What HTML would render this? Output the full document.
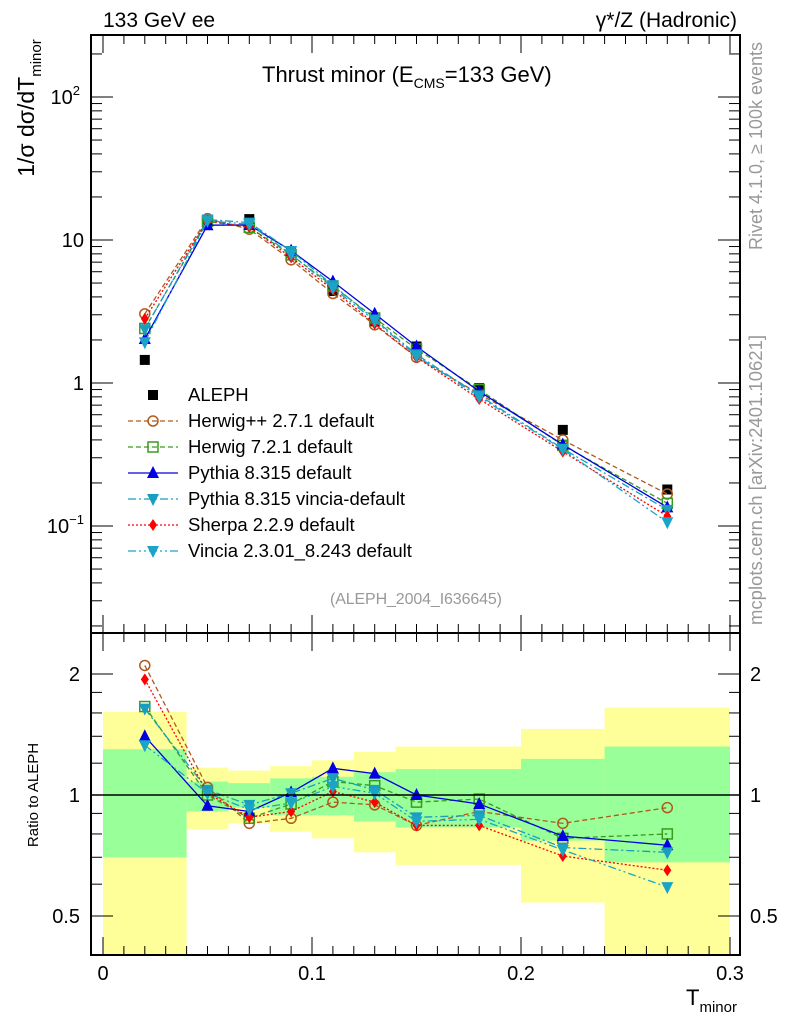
<!DOCTYPE html>
<html><head><meta charset="utf-8"><style>
body{margin:0;background:#fff;}
svg text{font-family:"Liberation Sans",sans-serif;}
</style></head><body>
<svg id="c" width="786" height="1024" viewBox="0 0 786 1024" xmlns="http://www.w3.org/2000/svg">
<g id="bands"></g>
<g id="grid"></g>
<g id="series"></g>
<g id="axes"></g>
<text x="103" y="27" font-size="21">133 GeV ee</text>
<text x="737" y="27" font-size="21" text-anchor="end">γ*/Z (Hadronic)</text>
<text x="262" y="82" font-size="22">Thrust minor (E<tspan font-size="14" dy="6">CMS</tspan><tspan dy="-6">=133 GeV)</tspan></text>
<text x="330" y="604" font-size="16" fill="#999" textLength="172">(ALEPH_2004_I636645)</text>
<text transform="translate(762,146) rotate(-90)" font-size="18" fill="#999" text-anchor="middle">Rivet 4.1.0, ≥ 100k events</text>
<text transform="translate(762,480) rotate(-90)" font-size="18.5" fill="#999" text-anchor="middle">mcplots.cern.ch [arXiv:2401.10621]</text>
<text transform="translate(34,108) rotate(-90)" font-size="23" text-anchor="middle">1/σ  dσ/dT<tspan font-size="15" dy="7">minor</tspan></text>
<text transform="translate(38,795) rotate(-90)" font-size="15" text-anchor="middle">Ratio to ALEPH</text>
<text x="686" y="1005" font-size="22">T<tspan font-size="15" dy="7">minor</tspan></text>
<g id="legend"></g>
</svg>
<script>
const xs = [0.02,0.05,0.07,0.09,0.11,0.13,0.15,0.18,0.22,0.27];
const binLo = [0,0.04,0.06,0.08,0.10,0.12,0.14,0.16,0.20,0.24];
const binHi = [0.04,0.06,0.08,0.10,0.12,0.14,0.16,0.20,0.24,0.30];
const aleph = [1.45,13.5,14.0,8.3,4.4,2.7,1.8,0.92,0.47,0.18];
const yellowHi = [1.61,1.17,1.15,1.18,1.22,1.28,1.32,1.32,1.46,1.65];
const yellowLo = [0.3,0.82,0.85,0.81,0.78,0.72,0.67,0.67,0.54,0.3];
const greenHi = [1.30,1.08,1.07,1.10,1.11,1.14,1.16,1.16,1.23,1.32];
const greenLo = [0.70,0.91,0.93,0.89,0.89,0.86,0.83,0.83,0.77,0.68];
const rHerwigpp = [2.10,1.045,0.85,0.875,0.96,0.945,0.84,0.91,0.85,0.93];
const rHerwig7 = [1.66,1.0,0.875,0.95,1.08,1.055,0.96,0.977,0.78,0.80];
const rPythia = [1.40,0.94,0.91,1.015,1.165,1.13,1.0,0.95,0.79,0.75];
const rPyVincia = [1.64,1.03,0.945,1.01,1.10,1.03,0.88,0.89,0.74,0.72];
const rSherpa = [1.94,1.01,0.88,0.91,1.02,0.96,0.84,0.84,0.705,0.65];
const rVincia = [1.33,1.01,0.92,0.955,1.05,1.01,0.86,0.87,0.73,0.59];
const xTicks = [0,0.1,0.2,0.3];
const xTickLabels = ["0","0.1","0.2","0.3"];

const NS="http://www.w3.org/2000/svg";
const L=91,R=740,T=35,MB=633,RB=955;
const X=v=>103+v*2090;
const Y=v=>383-143*Math.log10(v);
const RY=v=>795-121*Math.log2(v);
function mk(tag,attrs,parent){const e=document.createElementNS(NS,tag);for(const k in attrs)e.setAttribute(k,attrs[k]);parent.appendChild(e);return e;}
const bands=document.getElementById('bands');
for(let i=0;i<xs.length;i++){
  const yb=Math.min(RY(yellowLo[i]),RB);
  const r1=mk('rect',{x:X(binLo[i]),y:RY(yellowHi[i]),width:X(binHi[i])-X(binLo[i]),height:yb-RY(yellowHi[i]),fill:'#ffff99'},bands);
  
  
  const r2=mk('rect',{x:X(binLo[i]),y:RY(greenHi[i]),width:X(binHi[i])-X(binLo[i]),height:RY(greenLo[i])-RY(greenHi[i]),fill:'#99ff99'},bands);
  
  
}
const ax=document.getElementById('axes');
mk('line',{x1:L,x2:R,y1:795,y2:795,stroke:'#000','stroke-width':1.5},ax);
mk('rect',{x:L,y:T,width:R-L,height:MB-T,fill:'none',stroke:'#000','stroke-width':2},ax);
mk('rect',{x:L,y:MB,width:R-L,height:RB-MB,fill:'none',stroke:'#000','stroke-width':2},ax);
for(let v=0;v<=0.3001;v+=0.01){
  const major=Math.abs(v*10-Math.round(v*10))<1e-6;
  const len=major?18:9, x=X(v);
  [[T,1],[MB,-1],[MB,1],[RB,-1]].forEach(([y0,d])=>mk('line',{x1:x,x2:x,y1:y0,y2:y0+d*len,stroke:'#000','stroke-width':1},ax));
}
xTicks.forEach((v,i)=>{const t=mk('text',{x:X(v),y:980,'font-size':20,'text-anchor':'middle'},ax);t.textContent=xTickLabels[i];

});
for(let e=-2;e<=2;e++)for(let m=1;m<10;m++){const v=m*Math.pow(10,e);const y=Y(v);if(y<T||y>MB)continue;const len=m==1?22:11;
 mk('line',{x1:L,x2:L+len,y1:y,y2:y,stroke:'#000'},ax);mk('line',{x1:R,x2:R-len,y1:y,y2:y,stroke:'#000'},ax);}
[[100,'10','2'],[10,'10',''],[1,'1',''],[0.1,'10','−1']].forEach(([v,b,s])=>{const t=mk('text',{x:s?78:84,y:Y(v)+7,'font-size':20,'text-anchor':'end'},ax);t.textContent=b;
 if(s){const sp=mk('tspan',{'font-size':13,dy:-9},t);sp.textContent=s;t.setAttribute('x',s=='2'?80:84);}
 
 });
[0.4,0.5,0.6,0.7,0.8,0.9,1,1.2,1.4,1.6,1.8,2].forEach(v=>{const y=RY(v);if(y<MB||y>RB)return;const len=(v==0.5||v==1||v==2)?22:11;
 mk('line',{x1:L,x2:L+len,y1:y,y2:y,stroke:'#000'},ax);mk('line',{x1:R,x2:R-len,y1:y,y2:y,stroke:'#000'},ax);});
[[2,'2'],[1,'1'],[0.5,'0.5']].forEach(([v,s])=>{const a=mk('text',{x:80,y:RY(v)+7,'font-size':20,'text-anchor':'end'},ax);a.textContent=s;
 
 
 const b=mk('text',{x:750,y:RY(v)+7,'font-size':20},ax);b.textContent=s;
 
 });

const series=[
 {name:'Herwig++ 2.7.1 default',r:rHerwigpp,c:'#b05a1c',dash:'5,3',m:'circle'},
 {name:'Herwig 7.2.1 default',r:rHerwig7,c:'#3a9a1e',dash:'5,3',m:'square'},
 {name:'Pythia 8.315 default',r:rPythia,c:'#0000e0',dash:'',m:'tri'},
 {name:'Pythia 8.315 vincia-default',r:rPyVincia,c:'#1a9ec0',dash:'8,3,2,3',m:'itri'},
 {name:'Sherpa 2.2.9 default',r:rSherpa,c:'#ff0000',dash:'2,2',m:'diamond'},
 {name:'Vincia 2.3.01_8.243 default',r:rVincia,c:'#1aa5c8',dash:'8,3,2,3,2,3',m:'itri'}
];
function marker(g,type,x,y,c){
 let e;
 if(type=='circle')e=mk('circle',{cx:x,cy:y,r:5,fill:'none',stroke:c,'stroke-width':1.5},g);
 else if(type=='square')e=mk('rect',{x:x-5,y:y-5,width:10,height:10,fill:'none',stroke:c,'stroke-width':1.5},g);
 else if(type=='tri')e=mk('polygon',{points:`${x},${y-7} ${x-6},${y+5} ${x+6},${y+5}`,fill:c},g);
 else if(type=='itri')e=mk('polygon',{points:`${x},${y+7} ${x-6},${y-5} ${x+6},${y-5}`,fill:c},g);
 else if(type=='diamond')e=mk('polygon',{points:`${x},${y-6} ${x-4},${y} ${x},${y+6} ${x+4},${y}`,fill:c},g);
 else e=mk('rect',{x:x-5,y:y-5,width:10,height:10,fill:c},g);
 return e;
}
const sg=document.getElementById('series');
aleph.forEach((v,i)=>{const m=marker(sg,'sq',X(xs[i]),Y(v),'#000');
 
 });
series.forEach(s=>{
 const g=mk('g',{},sg);
 
 
 const mp=xs.map((x,i)=>X(x)+','+Y(s.r[i]*aleph[i])).join(' ');
 const rp=xs.map((x,i)=>X(x)+','+RY(s.r[i])).join(' ');
 mk('polyline',{points:mp,fill:'none',stroke:s.c,'stroke-width':1.3,'stroke-dasharray':s.dash},g);
 mk('polyline',{points:rp,fill:'none',stroke:s.c,'stroke-width':1.3,'stroke-dasharray':s.dash},g);
 xs.forEach((x,i)=>{marker(g,s.m,X(x),Y(s.r[i]*aleph[i]),s.c);marker(g,s.m,X(x),RY(s.r[i]),s.c);});
});
const lg=document.getElementById('legend');
const rows=[{name:'ALEPH',m:'sq',c:'#000',dash:null}].concat(series);
rows.forEach((s,i)=>{
 const y=395+i*26.0;
 const g=mk('g',{},lg);
 
 
 if(s.dash!==null)mk('line',{x1:128,x2:178,y1:y,y2:y,stroke:s.c,'stroke-width':1.3,'stroke-dasharray':s.dash},g);
 marker(g,s.m,153,y,s.c);
 const t=mk('text',{x:188,y:y+6,'font-size':18.5},g);t.textContent=s.name;
});
</script>
</body></html>
